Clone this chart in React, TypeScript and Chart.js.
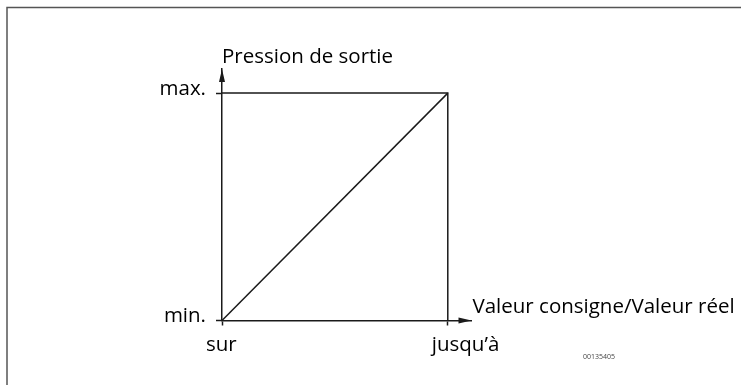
import React, { useEffect, useRef } from "react";
import { Chart, registerables } from "chart.js";

Chart.register(...registerables);

// ---- data ----
const xTickValues = [0, 1];
const xTickLabels = ["sur", "jusqu’à"];
const yTickValues = [0, 1];
const yTickLabels = ["min.", "max."];
const diagonalX = [0, 1];
const diagonalY = [0, 1];
const boxX = [0, 1, 1];
const boxY = [1, 1, 0];
const xAxisTitle = "Valeur consigne/Valeur réel";
const yAxisTitle = "Pression de sortie";
const docNumber = "00135405";
const xAxisMax = 1.105;
const yAxisMax = 1.106;

const FONT = "'Open Sans', 'Noto Sans', sans-serif";
const INK = "#1a1a1a";
const TEXT = "#000000";
const FS = 20.5;

const decorPlugin = {
  id: "decor",
  afterDraw(chart: any) {
    const ctx = chart.ctx as CanvasRenderingContext2D;
    const xs = chart.scales.x;
    const ys = chart.scales.y;
    const x0 = xs.getPixelForValue(0);
    const y0 = ys.getPixelForValue(0);
    const xEnd = xs.getPixelForValue(xAxisMax);
    const yEnd = ys.getPixelForValue(yAxisMax);
    ctx.save();
    // frame
    ctx.strokeStyle = "#555555";
    ctx.lineWidth = 1.5;
    ctx.beginPath();
    ctx.moveTo(7, 385);
    ctx.lineTo(7, 7.5);
    ctx.lineTo(741, 7.5);
    ctx.stroke();
    // arrows
    ctx.fillStyle = INK;
    ctx.beginPath();
    ctx.moveTo(xEnd, y0);
    ctx.lineTo(xEnd - 13, y0 - 3);
    ctx.lineTo(xEnd - 13, y0 + 3);
    ctx.closePath();
    ctx.fill();
    ctx.beginPath();
    ctx.moveTo(x0, yEnd);
    ctx.lineTo(x0 - 3, yEnd + 13);
    ctx.lineTo(x0 + 3, yEnd + 13);
    ctx.closePath();
    ctx.fill();
    // titles
    ctx.fillStyle = TEXT;
    ctx.font = `${FS}px ${FONT}`;
    ctx.textAlign = "left";
    ctx.textBaseline = "alphabetic";
    ctx.fillText(yAxisTitle, x0, yEnd - 6);
    ctx.fillText(xAxisTitle, xEnd + 1, y0 - 8);
    ctx.font = `7px ${FONT}`;
    ctx.fillStyle = "#444444";
    ctx.textAlign = "center";
    ctx.fillText(docNumber, 599, 359);
    ctx.restore();
  },
};

export default function App() {
  const ref = useRef<HTMLCanvasElement>(null);
  useEffect(() => {
    if (!ref.current) return;
    const chart = new Chart(ref.current, {
      type: "line",
      data: {
        datasets: [
          {
            data: diagonalX.map((x, i) => ({ x, y: diagonalY[i] })),
            borderColor: INK,
            borderWidth: 1.5,
            pointRadius: 0,
            clip: false as any,
          },
          {
            data: boxX.map((x, i) => ({ x, y: boxY[i] })),
            borderColor: INK,
            borderWidth: 1.5,
            pointRadius: 0,
            clip: false as any,
          },
        ],
      },
      options: {
        animation: false,
        responsive: false,
        events: [],
        layout: { padding: { left: 0, right: 269.5, top: 69, bottom: 0 } },
        plugins: { legend: { display: false }, tooltip: { enabled: false } },
        scales: {
          x: {
            type: "linear",
            min: 0,
            max: xAxisMax,
            afterFit: (s: any) => {
              s.height = 64.5;
            },
            afterBuildTicks: (s: any) => {
              s.ticks = xTickValues.map((v) => ({ value: v }));
            },
            grid: {
              drawOnChartArea: false,
              drawTicks: true,
              tickLength: 5,
              tickColor: INK,
              tickWidth: 1.5,
            },
            border: { display: true, color: INK, width: 1.5 },
            ticks: {
              autoSkip: false,
              maxRotation: 0,
              align: "start",
              labelOffset: -16,
              padding: 7,
              color: TEXT,
              font: { family: FONT, size: FS },
              callback: (_v: any, i: number) => xTickLabels[i],
            },
          },
          y: {
            type: "linear",
            min: 0,
            max: yAxisMax,
            afterFit: (s: any) => {
              s.width = 222;
            },
            afterBuildTicks: (s: any) => {
              s.ticks = yTickValues.map((v) => ({ value: v }));
            },
            grid: {
              drawOnChartArea: false,
              drawTicks: true,
              tickLength: 6,
              tickColor: INK,
              tickWidth: 1.5,
            },
            border: { display: true, color: INK, width: 1.5 },
            ticks: {
              autoSkip: false,
              padding: 10,
              labelOffset: -4,
              color: TEXT,
              font: { family: FONT, size: FS },
              callback: (_v: any, i: number) => yTickLabels[i],
            },
          },
        },
      },
      plugins: [decorPlugin],
    });
    return () => chart.destroy();
  }, []);
  return (
    <div style={{ position: "absolute", left: 0, top: 0, width: 741, height: 385, background: "#fff" }}>
      <canvas ref={ref} width={741} height={385} />
    </div>
  );
}
